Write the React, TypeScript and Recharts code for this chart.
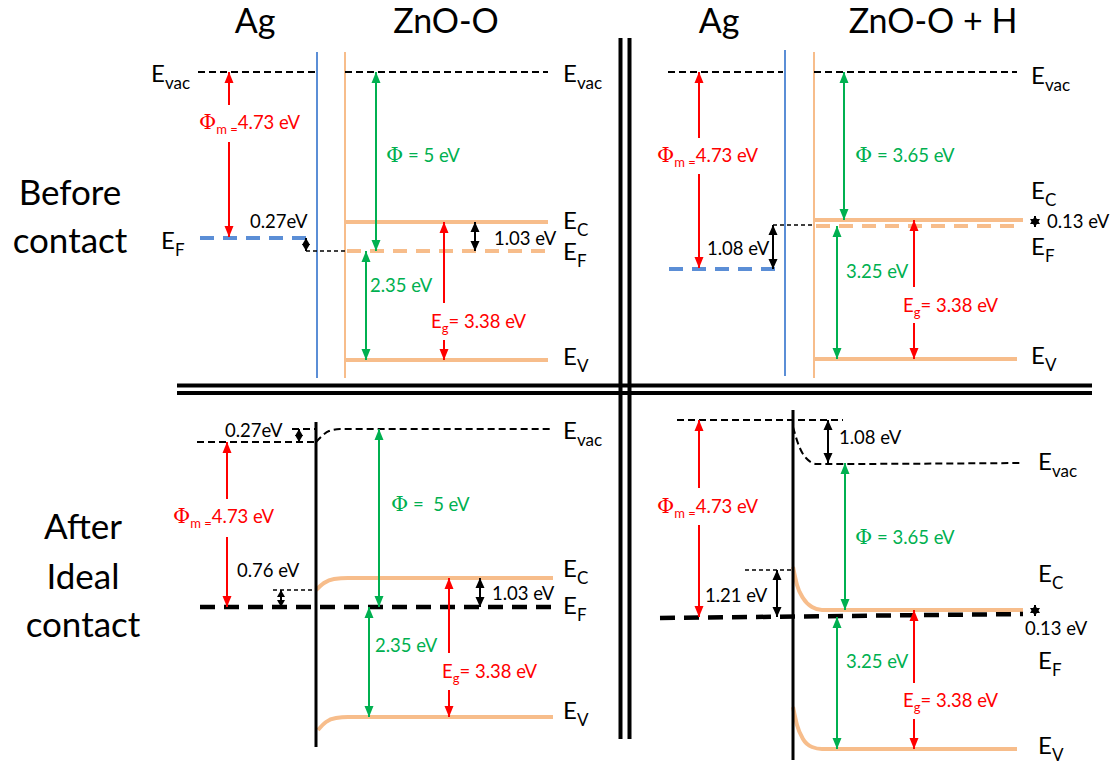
import React from 'react';
import { ComposedChart, Line, XAxis, YAxis } from 'recharts';

const W = 1114;
const H = 764;
const FONT = 'Lato, "DejaVu Sans", sans-serif';
const SERIF = '"DejaVu Serif", "Liberation Serif", serif';

const ORANGE = '#F7BD8B';
const BLUE = '#5B8ED6';
const RED = '#FF0000';
const GREEN = '#00B050';
const BLACK = '#000000';

type Pt = [number, number];

// page-pixel coordinates, y grows downward (y axis is reversed)
const dividers: Pt[][] = [
  [[620.5, 38], [620.5, 739]],
  [[629.5, 38], [629.5, 739]],
  [[177, 385.5], [1092, 385.5]],
  [[177, 393], [1092, 393]],
];
const metalSurfaces: Pt[][] = [[[317, 52], [317, 378]], [[785, 50], [785, 376]]];
const oxideSurfaces: Pt[][] = [[[345, 52], [345, 378]], [[814, 52], [814, 378]]];
const interfaces: Pt[][] = [[[316, 422], [316, 747]], [[793, 410], [793, 760]]];

const vacuumLevels: Pt[][] = [
  [[198, 72], [315, 72]],
  [[345, 72], [548, 72]],
  [[668, 72], [783, 72]],
  [[814, 72], [1017, 72]],
  [[197, 442], [316, 442]],
  [[292, 429], [316, 429]],
  [[677, 420], [843, 420]],
];
const vacuumBends: Pt[][] = [
  [[316, 442], [322, 436], [329, 431], [340, 429], [553, 429]],
  [[793, 427], [799, 446], [806, 458], [817, 464], [1020, 463]],
];
const guideLines: Pt[][] = [
  [[306, 251], [345, 251]],
  [[773, 225], [814, 225]],
  [[273, 590], [316, 590]],
  [[745, 570], [793, 570]],
];
const metalFermi: Pt[][] = [[[200, 238], [307, 238]], [[669, 269], [777, 269]]];
const oxideFermi: Pt[][] = [[[347, 251], [548, 251]], [[816, 226], [1021, 226]]];
const contactFermi: Pt[][] = [[[200, 607], [555, 607]], [[660, 618], [1023, 614]]];
const bandEdges: Pt[][] = [
  [[345, 222], [548, 222]],
  [[345, 360], [548, 360]],
  [[814, 220], [1023, 220]],
  [[814, 359], [1017, 359]],
];
const bentBands: Pt[][] = [
  [[316, 590], [324, 583], [334, 579], [348, 578], [553, 578]],
  [[318, 730], [326, 722], [336, 718], [348, 717], [553, 717]],
  [[793, 567], [797, 585], [803, 598], [812, 607], [822, 610], [1023, 610]],
  [[793, 707], [797, 725], [803, 739], [812, 747], [822, 749], [1017, 749]],
];

type Arrow = { x: number; y1: number; y2: number; gap?: [number, number] };

const redArrows: Arrow[] = [
  { x: 229, y1: 72, y2: 237, gap: [105, 142] },
  { x: 444, y1: 222, y2: 360, gap: [303, 340] },
  { x: 699, y1: 72, y2: 268, gap: [138, 174] },
  { x: 914, y1: 220, y2: 359, gap: [287, 323] },
  { x: 227, y1: 442, y2: 607, gap: [499, 537] },
  { x: 449, y1: 578, y2: 717, gap: [653, 690] },
  { x: 699, y1: 420, y2: 617, gap: [488, 525] },
  { x: 914, y1: 610, y2: 749, gap: [683, 719] },
];
const greenArrows: Arrow[] = [
  { x: 376, y1: 72, y2: 251 },
  { x: 366, y1: 251, y2: 360 },
  { x: 844, y1: 72, y2: 220 },
  { x: 837, y1: 226, y2: 359 },
  { x: 379, y1: 429, y2: 607 },
  { x: 369, y1: 607, y2: 717 },
  { x: 845, y1: 463, y2: 610 },
  { x: 837, y1: 617, y2: 749 },
];
const blackArrows: Arrow[] = [
  { x: 475, y1: 222, y2: 251 },
  { x: 773, y1: 225, y2: 269 },
  { x: 480, y1: 578, y2: 607 },
  { x: 828, y1: 420, y2: 463 },
  { x: 777, y1: 570, y2: 617 },
];
const tinyArrows: Arrow[] = [
  { x: 306, y1: 238, y2: 251 },
  { x: 299, y1: 429, y2: 442 },
  { x: 281, y1: 590, y2: 607 },
];
const crossMarks: Arrow[] = [
  { x: 1035, y1: 216, y2: 227 },
  { x: 1035, y1: 605, y2: 616 },
];

type Tag = { x: number; y: number; text: string };

const titles: Tag[] = [
  { x: 255, y: 33, text: 'Ag' },
  { x: 446, y: 33, text: 'ZnO-O' },
  { x: 719, y: 33, text: 'Ag' },
  { x: 933, y: 33, text: 'ZnO-O + H' },
];
const rowTitles: Tag[] = [
  { x: 70, y: 205, text: 'Before' },
  { x: 70, y: 253, text: 'contact' },
  { x: 83, y: 539, text: 'After' },
  { x: 83, y: 589, text: 'Ideal' },
  { x: 83, y: 637, text: 'contact' },
];
const levelTags: Tag[] = [
  { x: 151, y: 82, text: 'E_{vac}' },
  { x: 161, y: 249, text: 'E_{F}' },
  { x: 563, y: 82, text: 'E_{vac}' },
  { x: 563, y: 229, text: 'E_{C}' },
  { x: 563, y: 260, text: 'E_{F}' },
  { x: 563, y: 365, text: 'E_{V}' },
  { x: 1031, y: 84, text: 'E_{vac}' },
  { x: 1031, y: 199, text: 'E_{C}' },
  { x: 1031, y: 255, text: 'E_{F}' },
  { x: 1031, y: 364, text: 'E_{V}' },
  { x: 563, y: 439, text: 'E_{vac}' },
  { x: 563, y: 577, text: 'E_{C}' },
  { x: 563, y: 614, text: 'E_{F}' },
  { x: 563, y: 719, text: 'E_{V}' },
  { x: 1038, y: 470, text: 'E_{vac}' },
  { x: 1038, y: 582, text: 'E_{C}' },
  { x: 1038, y: 669, text: 'E_{F}' },
  { x: 1038, y: 754, text: 'E_{V}' },
];
const blackTags: Tag[] = [
  { x: 250, y: 228, text: '0.27eV' },
  { x: 494, y: 245, text: '1.03 eV' },
  { x: 707, y: 255, text: '1.08 eV' },
  { x: 1047, y: 228, text: '0.13 eV' },
  { x: 225, y: 437, text: '0.27eV' },
  { x: 237, y: 577, text: '0.76 eV' },
  { x: 492, y: 600, text: '1.03 eV' },
  { x: 839, y: 444, text: '1.08 eV' },
  { x: 705, y: 602, text: '1.21 eV' },
  { x: 1025, y: 635, text: '0.13 eV' },
];
const greenTags: Tag[] = [
  { x: 386, y: 162, text: 'Φ = 5 eV' },
  { x: 370, y: 292, text: '2.35 eV' },
  { x: 855, y: 162, text: 'Φ = 3.65 eV' },
  { x: 846, y: 278, text: '3.25 eV' },
  { x: 391, y: 511, text: 'Φ =  5 eV' },
  { x: 375, y: 652, text: '2.35 eV' },
  { x: 855, y: 544, text: 'Φ = 3.65 eV' },
  { x: 846, y: 668, text: '3.25 eV' },
];
const redTags: Tag[] = [
  { x: 199, y: 129, text: 'Φ_{m =}4.73 eV' },
  { x: 431, y: 328, text: 'E_{g}= 3.38 eV' },
  { x: 657, y: 162, text: 'Φ_{m =}4.73 eV' },
  { x: 903, y: 312, text: 'E_{g}= 3.38 eV' },
  { x: 173, y: 523, text: 'Φ_{m =}4.73 eV' },
  { x: 442, y: 678, text: 'E_{g}= 3.38 eV' },
  { x: 657, y: 513, text: 'Φ_{m =}4.73 eV' },
  { x: 903, y: 707, text: 'E_{g}= 3.38 eV' },
];

const rows = (pts: Pt[]) => pts.map(([x, y]) => ({ x, y }));

function path(pts: Pt[], key: string, stroke: string, width: number, dash?: string, curved = false) {
  return (
    <Line
      key={key}
      data={rows(pts)}
      dataKey="y"
      type={curved ? 'monotone' : 'linear'}
      stroke={stroke}
      strokeWidth={width}
      strokeDasharray={dash}
      dot={false}
      activeDot={false}
      isAnimationActive={false}
    />
  );
}

function arrowRows(a: Arrow) {
  const out: { x: number; y: number | null; head?: string }[] = [{ x: a.x, y: a.y1, head: 'up' }];
  if (a.gap) out.push({ x: a.x, y: a.gap[0] }, { x: a.x, y: null }, { x: a.x, y: a.gap[1] });
  out.push({ x: a.x, y: a.y2, head: 'down' });
  return out;
}

const headDot = (color: string, w: number, h: number) => (p: any) => {
  const { cx, cy, payload, index } = p;
  if (!payload || !payload.head || cx == null || cy == null) return <g key={`h${index}`} />;
  const d = payload.head === 'up' ? 1 : -1;
  return (
    <polygon
      key={`h${index}`}
      points={`${cx},${cy} ${cx - w / 2},${cy + d * h} ${cx + w / 2},${cy + d * h}`}
      fill={color}
    />
  );
};

function arrow(a: Arrow, key: string, color: string, w: number, h: number) {
  return (
    <Line
      key={key}
      data={arrowRows(a)}
      dataKey="y"
      stroke={color}
      strokeWidth={2}
      connectNulls={false}
      dot={headDot(color, w, h)}
      activeDot={false}
      isAnimationActive={false}
    />
  );
}

function richParts(s: string) {
  const out: { t: string; sub: boolean }[] = [];
  s.split(/(_\{[^}]*\})/).forEach(chunk => {
    if (!chunk) return;
    if (chunk.startsWith('_{')) out.push({ t: chunk.slice(2, -1), sub: true });
    else out.push({ t: chunk, sub: false });
  });
  return out;
}

const tagDot = (fill: string, size: number, anchor: 'start' | 'middle') => (p: any) => {
  const { cx, cy, payload, index } = p;
  if (cx == null || cy == null) return <g key={`t${index}`} />;
  const subSize = Math.round(size * 0.7);
  const shift = Math.round(size * 0.28);
  const spans: React.ReactNode[] = [];
  let low = false;
  richParts(payload.text).forEach((part, i) => {
    if (part.sub) {
      spans.push(
        <tspan key={`${i}`} fontSize={subSize} dy={shift}>
          {part.t}
        </tspan>
      );
      low = true;
    } else {
      part.t
        .split(/(Φ)/)
        .filter(Boolean)
        .forEach((pc, j) => {
          const phi = pc === 'Φ';
          spans.push(
            <tspan
              key={`${i}-${j}`}
              dy={low ? -shift : 0}
              fontFamily={phi ? SERIF : undefined}
              fontSize={phi ? Math.round(size * 1.15) : undefined}
            >
              {pc}
            </tspan>
          );
          low = false;
        });
    }
  });
  return (
    <text
      key={`t${index}`}
      x={cx}
      y={cy}
      fill={fill}
      fontSize={size}
      fontFamily={FONT}
      textAnchor={anchor}
      style={{ whiteSpace: 'pre' }}
    >
      {spans}
    </text>
  );
};

function tags(list: Tag[], key: string, fill: string, size: number, anchor: 'start' | 'middle' = 'start') {
  return (
    <Line
      key={key}
      data={list}
      dataKey="y"
      stroke="none"
      dot={tagDot(fill, size, anchor)}
      activeDot={false}
      isAnimationActive={false}
    />
  );
}

export default function App() {
  return (
    <div style={{ position: 'absolute', left: 0, top: 0, width: W, height: H, background: '#fff' }}>
      <ComposedChart width={W} height={H} margin={{ top: 0, right: 0, bottom: 0, left: 0 }}>
        <XAxis type="number" dataKey="x" domain={[0, W]} hide allowDataOverflow />
        <YAxis type="number" domain={[0, H]} reversed hide allowDataOverflow />

        {dividers.map((s, i) => path(s, `div${i}`, BLACK, 4))}
        {metalSurfaces.map((s, i) => path(s, `ms${i}`, BLUE, 2))}
        {oxideSurfaces.map((s, i) => path(s, `os${i}`, ORANGE, 2))}

        {vacuumLevels.map((s, i) => path(s, `vac${i}`, BLACK, 2, '7 4'))}
        {vacuumBends.map((s, i) => path(s, `vb${i}`, BLACK, 2, '7 4', true))}
        {guideLines.map((s, i) => path(s, `gl${i}`, BLACK, 1.5, '4 3'))}

        {bandEdges.map((s, i) => path(s, `be${i}`, ORANGE, 4))}
        {bentBands.map((s, i) => path(s, `bb${i}`, ORANGE, 4, undefined, true))}
        {metalFermi.map((s, i) => path(s, `mf${i}`, BLUE, 4, '14 9'))}
        {oxideFermi.map((s, i) => path(s, `of${i}`, ORANGE, 4, '14 9'))}
        {interfaces.map((s, i) => path(s, `if${i}`, BLACK, 3))}
        {contactFermi.map((s, i) => path(s, `cf${i}`, BLACK, 4.5, '15 9'))}

        {redArrows.map((a, i) => arrow(a, `ra${i}`, RED, 9, 11))}
        {greenArrows.map((a, i) => arrow(a, `ga${i}`, GREEN, 9, 11))}
        {blackArrows.map((a, i) => arrow(a, `ba${i}`, BLACK, 9, 10))}
        {tinyArrows.map((a, i) => arrow(a, `ta${i}`, BLACK, 8, 7))}
        {crossMarks.map((a, i) => arrow(a, `cm${i}`, BLACK, 10, 8))}

        {tags(titles, 'titles', BLACK, 34, 'middle')}
        {tags(rowTitles, 'rows', BLACK, 35, 'middle')}
        {tags(levelTags, 'levels', BLACK, 24)}
        {tags(blackTags, 'blk', BLACK, 18.5)}
        {tags(greenTags, 'grn', GREEN, 18.5)}
        {tags(redTags, 'red', RED, 18.5)}
      </ComposedChart>
    </div>
  );
}
